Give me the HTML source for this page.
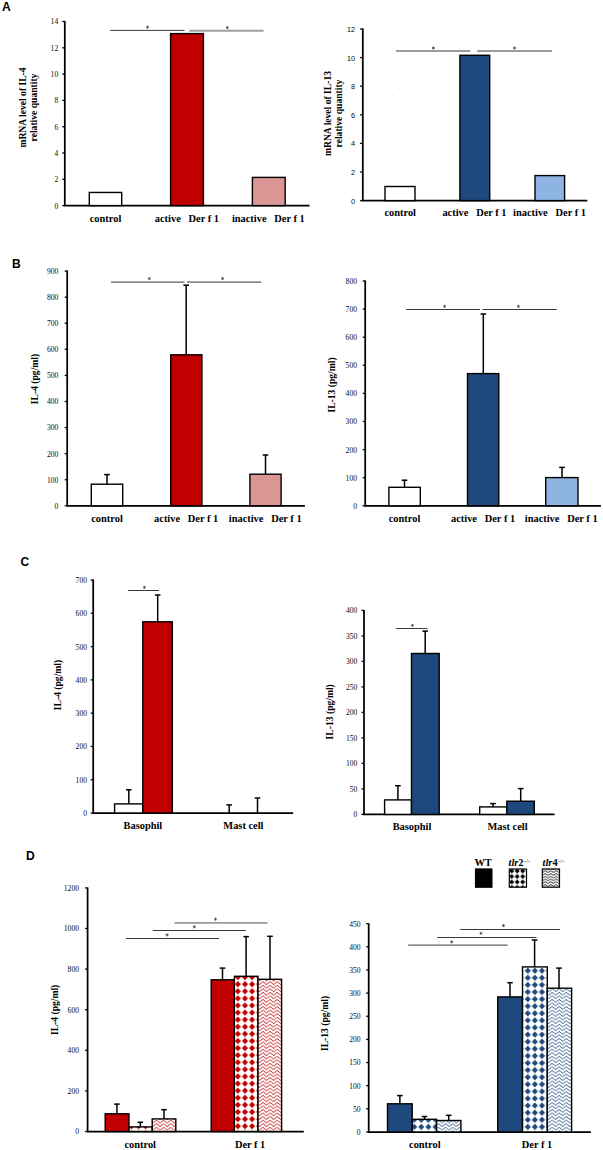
<!DOCTYPE html>
<html><head><meta charset="utf-8"><title>Figure</title>
<style>html,body{margin:0;padding:0;background:#fff}svg{display:block}text{white-space:pre}</style>
</head><body>
<svg width="603" height="1150" viewBox="0 0 603 1150">
<rect x="0" y="0" width="603" height="1150" fill="#fff"/>
<defs>
<pattern id="dR" width="7.1" height="7.1" patternUnits="userSpaceOnUse" patternTransform="translate(0.05 0.85)">
<rect width="7.1" height="7.1" fill="#fff"/>
<path d="M3.55 0.5 L6.6 3.55 L3.55 6.6 L0.5 3.55 Z" fill="#C00000"/>
</pattern>
<pattern id="dB" width="7.1" height="7.1" patternUnits="userSpaceOnUse" patternTransform="translate(5.95 1.55)">
<rect width="7.1" height="7.1" fill="#fff"/>
<path d="M3.55 0.5 L6.6 3.55 L3.55 6.6 L0.5 3.55 Z" fill="#1F497D"/>
</pattern>
<pattern id="dK" width="5.5" height="5.5" patternUnits="userSpaceOnUse" patternTransform="translate(2.95 4.75)">
<rect width="5.5" height="5.5" fill="#fff"/>
<path d="M2.75 0.27 L5.22 2.75 L2.75 5.22 L0.27 2.75 Z" fill="#000"/>
</pattern>
<pattern id="zR" width="7.1" height="3.55" patternUnits="userSpaceOnUse" patternTransform="translate(3.81 1.58)">
<rect width="7.1" height="3.55" fill="#fff"/>
<path d="M-3.55 0.32 L0 3.22 L3.55 0.32 L7.1 3.22 L10.65 0.32" fill="none" stroke="#C00000" stroke-width="0.85" stroke-linejoin="miter"/>
</pattern>
<pattern id="zB" width="7.1" height="3.55" patternUnits="userSpaceOnUse" patternTransform="translate(1.85 1.52)">
<rect width="7.1" height="3.55" fill="#fff"/>
<path d="M-3.55 0.32 L0 3.22 L3.55 0.32 L7.1 3.22 L10.65 0.32" fill="none" stroke="#1F497D" stroke-width="0.85" stroke-linejoin="miter"/>
</pattern>
<pattern id="zK" width="5.5" height="2.75" patternUnits="userSpaceOnUse" patternTransform="translate(3.55 1.28)">
<rect width="5.5" height="2.75" fill="#fff"/>
<path d="M-2.75 0.43 L0 2.33 L2.75 0.43 L5.5 2.33 L8.25 0.43" fill="none" stroke="#000" stroke-width="0.8" stroke-linejoin="miter"/>
</pattern>
</defs>
<text x="2.1" y="11" font-family='"Liberation Sans", sans-serif' font-size="12.1" font-weight="bold" text-anchor="start" fill="#000">A</text>
<text x="11.9" y="267.6" font-family='"Liberation Sans", sans-serif' font-size="12.1" font-weight="bold" text-anchor="start" fill="#000">B</text>
<text x="20.5" y="565.5" font-family='"Liberation Sans", sans-serif' font-size="12.1" font-weight="bold" text-anchor="start" fill="#000">C</text>
<text x="25.9" y="859.6" font-family='"Liberation Sans", sans-serif' font-size="12.1" font-weight="bold" text-anchor="start" fill="#000">D</text>
<line x1="62.3" y1="205.6" x2="64.8" y2="205.6" stroke="#000" stroke-width="1.3"/>
<text x="58.2" y="208.5" font-family='"Liberation Serif", serif' font-size="7.6" font-weight="normal" text-anchor="end" fill="#0a0a0a">0</text>
<line x1="62.3" y1="179.3" x2="64.8" y2="179.3" stroke="#000" stroke-width="1.3"/>
<text x="58.2" y="182.2" font-family='"Liberation Serif", serif' font-size="7.6" font-weight="normal" text-anchor="end" fill="#0a0a0a">2</text>
<line x1="62.3" y1="153" x2="64.8" y2="153" stroke="#000" stroke-width="1.3"/>
<text x="58.2" y="155.9" font-family='"Liberation Serif", serif' font-size="7.6" font-weight="normal" text-anchor="end" fill="#0a0a0a">4</text>
<line x1="62.3" y1="126.7" x2="64.8" y2="126.7" stroke="#000" stroke-width="1.3"/>
<text x="58.2" y="129.6" font-family='"Liberation Serif", serif' font-size="7.6" font-weight="normal" text-anchor="end" fill="#0a0a0a">6</text>
<line x1="62.3" y1="100.4" x2="64.8" y2="100.4" stroke="#000" stroke-width="1.3"/>
<text x="58.2" y="103.3" font-family='"Liberation Serif", serif' font-size="7.6" font-weight="normal" text-anchor="end" fill="#0a0a0a">8</text>
<line x1="62.3" y1="74.1" x2="64.8" y2="74.1" stroke="#000" stroke-width="1.3"/>
<text x="58.2" y="77" font-family='"Liberation Serif", serif' font-size="7.6" font-weight="normal" text-anchor="end" fill="#0a0a0a">10</text>
<line x1="62.3" y1="47.8" x2="64.8" y2="47.8" stroke="#000" stroke-width="1.3"/>
<text x="58.2" y="50.7" font-family='"Liberation Serif", serif' font-size="7.6" font-weight="normal" text-anchor="end" fill="#0a0a0a">12</text>
<line x1="62.3" y1="21.5" x2="64.8" y2="21.5" stroke="#000" stroke-width="1.3"/>
<text x="58.2" y="24.4" font-family='"Liberation Serif", serif' font-size="7.6" font-weight="normal" text-anchor="end" fill="#0a0a0a">14</text>
<polyline points="64.8,21 64.8,205.6 309.5,205.6" fill="none" stroke="#000" stroke-width="1.75" stroke-linejoin="miter"/>
<rect x="89.3" y="192.45" width="32.4" height="13.15" fill="#fff" stroke="#000" stroke-width="1.4"/>
<rect x="170.6" y="33.6" width="32.8" height="172" fill="#C00000" stroke="#000" stroke-width="1.4"/>
<rect x="252.4" y="177.4" width="32.8" height="28.2" fill="#DA9694" stroke="#000" stroke-width="1.4"/>
<line x1="110.2" y1="30.4" x2="184.6" y2="30.4" stroke="#383838" stroke-width="1"/>
<path d="M147.5 25.95 L147.5 28.45 M148.58 26.57 L146.42 27.82 M148.58 27.82 L146.42 26.57" fill="none" stroke="#222" stroke-width="0.6" stroke-linecap="round"/>
<line x1="189.2" y1="30.8" x2="263.6" y2="30.8" stroke="#a0a0a0" stroke-width="1.9"/>
<path d="M227.3 26.35 L227.3 28.85 M228.38 26.98 L226.22 28.23 M228.38 28.23 L226.22 26.98" fill="none" stroke="#222" stroke-width="0.6" stroke-linecap="round"/>
<text x="105.5" y="221.8" font-family='"Liberation Serif", serif' font-size="10.4" font-weight="bold" text-anchor="middle" fill="#000">control</text>
<text x="154.8" y="221.8" font-family='"Liberation Serif", serif' font-size="10.4" font-weight="bold" text-anchor="start" fill="#000">active   Der f 1</text>
<text x="231.9" y="221.8" font-family='"Liberation Serif", serif' font-size="10.4" font-weight="bold" text-anchor="start" fill="#000">inactive   Der f 1</text>
<text transform="translate(26.1 107.5) rotate(-90)" font-family='"Liberation Serif", serif' font-size="9.6" font-weight="bold" text-anchor="middle" fill="#000">mRNA level of IL-4</text>
<text transform="translate(36.9 107.5) rotate(-90)" font-family='"Liberation Serif", serif' font-size="9.6" font-weight="bold" text-anchor="middle" fill="#000">relative quantity</text>
<line x1="360.1" y1="200.6" x2="362.8" y2="200.6" stroke="#000" stroke-width="1.3"/>
<text x="355" y="203.6" font-family='"Liberation Sans", sans-serif' font-size="7.25" font-weight="normal" text-anchor="end" fill="#0a0a0a">0</text>
<line x1="360.1" y1="172" x2="362.8" y2="172" stroke="#000" stroke-width="1.3"/>
<text x="355" y="175" font-family='"Liberation Sans", sans-serif' font-size="7.25" font-weight="normal" text-anchor="end" fill="#0a0a0a">2</text>
<line x1="360.1" y1="143.4" x2="362.8" y2="143.4" stroke="#000" stroke-width="1.3"/>
<text x="355" y="146.4" font-family='"Liberation Sans", sans-serif' font-size="7.25" font-weight="normal" text-anchor="end" fill="#0a0a0a">4</text>
<line x1="360.1" y1="114.8" x2="362.8" y2="114.8" stroke="#000" stroke-width="1.3"/>
<text x="355" y="117.8" font-family='"Liberation Sans", sans-serif' font-size="7.25" font-weight="normal" text-anchor="end" fill="#0a0a0a">6</text>
<line x1="360.1" y1="86.2" x2="362.8" y2="86.2" stroke="#000" stroke-width="1.3"/>
<text x="355" y="89.2" font-family='"Liberation Sans", sans-serif' font-size="7.25" font-weight="normal" text-anchor="end" fill="#0a0a0a">8</text>
<line x1="360.1" y1="57.6" x2="362.8" y2="57.6" stroke="#000" stroke-width="1.3"/>
<text x="355" y="60.6" font-family='"Liberation Sans", sans-serif' font-size="7.25" font-weight="normal" text-anchor="end" fill="#0a0a0a">10</text>
<line x1="360.1" y1="29" x2="362.8" y2="29" stroke="#000" stroke-width="1.3"/>
<text x="355" y="32" font-family='"Liberation Sans", sans-serif' font-size="7.25" font-weight="normal" text-anchor="end" fill="#0a0a0a">12</text>
<polyline points="362.8,28.5 362.8,200.6 587.3,200.6" fill="none" stroke="#000" stroke-width="1.75" stroke-linejoin="miter"/>
<rect x="385" y="186.5" width="30" height="14.1" fill="#fff" stroke="#000" stroke-width="1.4"/>
<rect x="459.9" y="55.3" width="29.8" height="145.3" fill="#1F497D" stroke="#000" stroke-width="1.4"/>
<rect x="535" y="175.6" width="29.6" height="25" fill="#8DB4E2" stroke="#000" stroke-width="1.4"/>
<line x1="396" y1="51" x2="470.3" y2="51" stroke="#383838" stroke-width="1"/>
<path d="M433.4 46.75 L433.4 49.25 M434.48 47.38 L432.32 48.62 M434.48 48.62 L432.32 47.38" fill="none" stroke="#222" stroke-width="0.6" stroke-linecap="round"/>
<line x1="477.2" y1="51" x2="552" y2="51" stroke="#383838" stroke-width="1"/>
<path d="M514.5 46.75 L514.5 49.25 M515.58 47.38 L513.42 48.62 M515.58 48.62 L513.42 47.38" fill="none" stroke="#222" stroke-width="0.6" stroke-linecap="round"/>
<text x="400.2" y="216.2" font-family='"Liberation Serif", serif' font-size="10.4" font-weight="bold" text-anchor="middle" fill="#000">control</text>
<text x="442.4" y="216.2" font-family='"Liberation Serif", serif' font-size="10.4" font-weight="bold" text-anchor="start" fill="#000">active   Der f 1</text>
<text x="513.1" y="216.2" font-family='"Liberation Serif", serif' font-size="10.4" font-weight="bold" text-anchor="start" fill="#000">inactive   Der f 1</text>
<text transform="translate(331.3 113.5) rotate(-90)" font-family='"Liberation Serif", serif' font-size="9.6" font-weight="bold" text-anchor="middle" fill="#000">mRNA level of IL-13</text>
<text transform="translate(342 113.5) rotate(-90)" font-family='"Liberation Serif", serif' font-size="9.6" font-weight="bold" text-anchor="middle" fill="#000">relative quantity</text>
<rect x="391.3" y="94.1" width="1.6" height="1.6" fill="#e4e4e4"/>
<line x1="64.7" y1="505.8" x2="67.2" y2="505.8" stroke="#000" stroke-width="1.3"/>
<text x="58.4" y="508.7" font-family='"Liberation Serif", serif' font-size="7.6" font-weight="normal" text-anchor="end" fill="#0a0a0a">0</text>
<line x1="64.7" y1="479.72" x2="67.2" y2="479.72" stroke="#000" stroke-width="1.3"/>
<text x="58.4" y="482.62" font-family='"Liberation Serif", serif' font-size="7.6" font-weight="normal" text-anchor="end" fill="#0a0a0a">100</text>
<line x1="64.7" y1="453.64" x2="67.2" y2="453.64" stroke="#000" stroke-width="1.3"/>
<text x="58.4" y="456.54" font-family='"Liberation Serif", serif' font-size="7.6" font-weight="normal" text-anchor="end" fill="#0a0a0a">200</text>
<line x1="64.7" y1="427.56" x2="67.2" y2="427.56" stroke="#000" stroke-width="1.3"/>
<text x="58.4" y="430.46" font-family='"Liberation Serif", serif' font-size="7.6" font-weight="normal" text-anchor="end" fill="#0a0a0a">300</text>
<line x1="64.7" y1="401.48" x2="67.2" y2="401.48" stroke="#000" stroke-width="1.3"/>
<text x="58.4" y="404.38" font-family='"Liberation Serif", serif' font-size="7.6" font-weight="normal" text-anchor="end" fill="#0a0a0a">400</text>
<line x1="64.7" y1="375.4" x2="67.2" y2="375.4" stroke="#000" stroke-width="1.3"/>
<text x="58.4" y="378.3" font-family='"Liberation Serif", serif' font-size="7.6" font-weight="normal" text-anchor="end" fill="#0a0a0a">500</text>
<line x1="64.7" y1="349.32" x2="67.2" y2="349.32" stroke="#000" stroke-width="1.3"/>
<text x="58.4" y="352.22" font-family='"Liberation Serif", serif' font-size="7.6" font-weight="normal" text-anchor="end" fill="#0a0a0a">600</text>
<line x1="64.7" y1="323.24" x2="67.2" y2="323.24" stroke="#000" stroke-width="1.3"/>
<text x="58.4" y="326.14" font-family='"Liberation Serif", serif' font-size="7.6" font-weight="normal" text-anchor="end" fill="#0a0a0a">700</text>
<line x1="64.7" y1="297.16" x2="67.2" y2="297.16" stroke="#000" stroke-width="1.3"/>
<text x="58.4" y="300.06" font-family='"Liberation Serif", serif' font-size="7.6" font-weight="normal" text-anchor="end" fill="#0a0a0a">800</text>
<line x1="64.7" y1="271.08" x2="67.2" y2="271.08" stroke="#000" stroke-width="1.3"/>
<text x="58.4" y="273.98" font-family='"Liberation Serif", serif' font-size="7.6" font-weight="normal" text-anchor="end" fill="#0a0a0a">900</text>
<polyline points="67.2,270.58 67.2,505.8 304.9,505.8" fill="none" stroke="#000" stroke-width="1.75" stroke-linejoin="miter"/>
<rect x="91.3" y="484.2" width="31.4" height="21.6" fill="#fff" stroke="#000" stroke-width="1.4"/>
<line x1="107" y1="474.6" x2="107" y2="484.2" stroke="#000" stroke-width="1.5"/>
<line x1="104.2" y1="474.6" x2="109.8" y2="474.6" stroke="#000" stroke-width="1.5"/>
<rect x="170.7" y="354.8" width="31.2" height="151" fill="#C00000" stroke="#000" stroke-width="1.4"/>
<line x1="186.2" y1="285.2" x2="186.2" y2="354.8" stroke="#000" stroke-width="1.5"/>
<line x1="183.4" y1="285.2" x2="189" y2="285.2" stroke="#000" stroke-width="1.5"/>
<rect x="249.9" y="474.2" width="31.2" height="31.6" fill="#DA9694" stroke="#000" stroke-width="1.4"/>
<line x1="265.5" y1="455" x2="265.5" y2="474.2" stroke="#000" stroke-width="1.5"/>
<line x1="262.7" y1="455" x2="268.3" y2="455" stroke="#000" stroke-width="1.5"/>
<line x1="111" y1="282.1" x2="184.5" y2="282.1" stroke="#383838" stroke-width="1"/>
<path d="M149.3 277.35 L149.3 279.85 M150.38 277.98 L148.22 279.23 M150.38 279.23 L148.22 277.98" fill="none" stroke="#222" stroke-width="0.6" stroke-linecap="round"/>
<line x1="187.1" y1="282.1" x2="261.2" y2="282.1" stroke="#383838" stroke-width="1"/>
<path d="M222.6 277.35 L222.6 279.85 M223.68 277.98 L221.52 279.23 M223.68 279.23 L221.52 277.98" fill="none" stroke="#222" stroke-width="0.6" stroke-linecap="round"/>
<text x="107" y="521.6" font-family='"Liberation Serif", serif' font-size="10.4" font-weight="bold" text-anchor="middle" fill="#000">control</text>
<text x="154.1" y="521.6" font-family='"Liberation Serif", serif' font-size="10.4" font-weight="bold" text-anchor="start" fill="#000">active   Der f 1</text>
<text x="228.8" y="521.6" font-family='"Liberation Serif", serif' font-size="10.4" font-weight="bold" text-anchor="start" fill="#000">inactive   Der f 1</text>
<text transform="translate(38.1 379) rotate(-90)" font-family='"Liberation Serif", serif' font-size="9.6" font-weight="bold" text-anchor="middle" fill="#000">IL-4 (pg/ml)</text>
<line x1="362.7" y1="505.8" x2="365.2" y2="505.8" stroke="#000" stroke-width="1.3"/>
<text x="357" y="508.7" font-family='"Liberation Serif", serif' font-size="7.6" font-weight="normal" text-anchor="end" fill="#0a0a0a">0</text>
<line x1="362.7" y1="477.7" x2="365.2" y2="477.7" stroke="#000" stroke-width="1.3"/>
<text x="357" y="480.6" font-family='"Liberation Serif", serif' font-size="7.6" font-weight="normal" text-anchor="end" fill="#0a0a0a">100</text>
<line x1="362.7" y1="449.6" x2="365.2" y2="449.6" stroke="#000" stroke-width="1.3"/>
<text x="357" y="452.5" font-family='"Liberation Serif", serif' font-size="7.6" font-weight="normal" text-anchor="end" fill="#0a0a0a">200</text>
<line x1="362.7" y1="421.5" x2="365.2" y2="421.5" stroke="#000" stroke-width="1.3"/>
<text x="357" y="424.4" font-family='"Liberation Serif", serif' font-size="7.6" font-weight="normal" text-anchor="end" fill="#0a0a0a">300</text>
<line x1="362.7" y1="393.4" x2="365.2" y2="393.4" stroke="#000" stroke-width="1.3"/>
<text x="357" y="396.3" font-family='"Liberation Serif", serif' font-size="7.6" font-weight="normal" text-anchor="end" fill="#0a0a0a">400</text>
<line x1="362.7" y1="365.3" x2="365.2" y2="365.3" stroke="#000" stroke-width="1.3"/>
<text x="357" y="368.2" font-family='"Liberation Serif", serif' font-size="7.6" font-weight="normal" text-anchor="end" fill="#0a0a0a">500</text>
<line x1="362.7" y1="337.2" x2="365.2" y2="337.2" stroke="#000" stroke-width="1.3"/>
<text x="357" y="340.1" font-family='"Liberation Serif", serif' font-size="7.6" font-weight="normal" text-anchor="end" fill="#0a0a0a">600</text>
<line x1="362.7" y1="309.1" x2="365.2" y2="309.1" stroke="#000" stroke-width="1.3"/>
<text x="357" y="312" font-family='"Liberation Serif", serif' font-size="7.6" font-weight="normal" text-anchor="end" fill="#0a0a0a">700</text>
<line x1="362.7" y1="281" x2="365.2" y2="281" stroke="#000" stroke-width="1.3"/>
<text x="357" y="283.9" font-family='"Liberation Serif", serif' font-size="7.6" font-weight="normal" text-anchor="end" fill="#0a0a0a">800</text>
<polyline points="365.2,280.5 365.2,505.8 600.9,505.8" fill="none" stroke="#000" stroke-width="1.75" stroke-linejoin="miter"/>
<rect x="388.9" y="487.3" width="31.4" height="18.5" fill="#fff" stroke="#000" stroke-width="1.4"/>
<line x1="404.5" y1="480.2" x2="404.5" y2="487.3" stroke="#000" stroke-width="1.5"/>
<line x1="401.7" y1="480.2" x2="407.3" y2="480.2" stroke="#000" stroke-width="1.5"/>
<rect x="467.5" y="373.6" width="31.3" height="132.2" fill="#1F497D" stroke="#000" stroke-width="1.4"/>
<line x1="483.3" y1="314" x2="483.3" y2="373.6" stroke="#000" stroke-width="1.5"/>
<line x1="480.5" y1="314" x2="486.1" y2="314" stroke="#000" stroke-width="1.5"/>
<rect x="545.7" y="477.6" width="32.3" height="28.2" fill="#8DB4E2" stroke="#000" stroke-width="1.4"/>
<line x1="562" y1="467.4" x2="562" y2="477.6" stroke="#000" stroke-width="1.5"/>
<line x1="559.2" y1="467.4" x2="564.8" y2="467.4" stroke="#000" stroke-width="1.5"/>
<line x1="406.3" y1="309.5" x2="480" y2="309.5" stroke="#383838" stroke-width="1"/>
<path d="M444.6 305.15 L444.6 307.65 M445.68 305.77 L443.52 307.02 M445.68 307.02 L443.52 305.77" fill="none" stroke="#222" stroke-width="0.6" stroke-linecap="round"/>
<line x1="482.4" y1="309.5" x2="556.8" y2="309.5" stroke="#383838" stroke-width="1"/>
<path d="M518.4 305.15 L518.4 307.65 M519.48 305.77 L517.32 307.02 M519.48 307.02 L517.32 305.77" fill="none" stroke="#222" stroke-width="0.6" stroke-linecap="round"/>
<text x="404.5" y="521.8" font-family='"Liberation Serif", serif' font-size="10.4" font-weight="bold" text-anchor="middle" fill="#000">control</text>
<text x="451" y="521.8" font-family='"Liberation Serif", serif' font-size="10.4" font-weight="bold" text-anchor="start" fill="#000">active   Der f 1</text>
<text x="524.8" y="521.8" font-family='"Liberation Serif", serif' font-size="10.4" font-weight="bold" text-anchor="start" fill="#000">inactive   Der f 1</text>
<text transform="translate(334.5 385) rotate(-90)" font-family='"Liberation Serif", serif' font-size="9.6" font-weight="bold" text-anchor="middle" fill="#000">IL-13 (pg/ml)</text>
<line x1="90.7" y1="813" x2="93.2" y2="813" stroke="#000" stroke-width="1.3"/>
<text x="87" y="815.9" font-family='"Liberation Serif", serif' font-size="7.6" font-weight="normal" text-anchor="end" fill="#0a0a0a">0</text>
<line x1="90.7" y1="779.72" x2="93.2" y2="779.72" stroke="#000" stroke-width="1.3"/>
<text x="87" y="782.62" font-family='"Liberation Serif", serif' font-size="7.6" font-weight="normal" text-anchor="end" fill="#0a0a0a">100</text>
<line x1="90.7" y1="746.44" x2="93.2" y2="746.44" stroke="#000" stroke-width="1.3"/>
<text x="87" y="749.34" font-family='"Liberation Serif", serif' font-size="7.6" font-weight="normal" text-anchor="end" fill="#0a0a0a">200</text>
<line x1="90.7" y1="713.16" x2="93.2" y2="713.16" stroke="#000" stroke-width="1.3"/>
<text x="87" y="716.06" font-family='"Liberation Serif", serif' font-size="7.6" font-weight="normal" text-anchor="end" fill="#0a0a0a">300</text>
<line x1="90.7" y1="679.88" x2="93.2" y2="679.88" stroke="#000" stroke-width="1.3"/>
<text x="87" y="682.78" font-family='"Liberation Serif", serif' font-size="7.6" font-weight="normal" text-anchor="end" fill="#0a0a0a">400</text>
<line x1="90.7" y1="646.6" x2="93.2" y2="646.6" stroke="#000" stroke-width="1.3"/>
<text x="87" y="649.5" font-family='"Liberation Serif", serif' font-size="7.6" font-weight="normal" text-anchor="end" fill="#0a0a0a">500</text>
<line x1="90.7" y1="613.32" x2="93.2" y2="613.32" stroke="#000" stroke-width="1.3"/>
<text x="87" y="616.22" font-family='"Liberation Serif", serif' font-size="7.6" font-weight="normal" text-anchor="end" fill="#0a0a0a">600</text>
<line x1="90.7" y1="580.04" x2="93.2" y2="580.04" stroke="#000" stroke-width="1.3"/>
<text x="87" y="582.94" font-family='"Liberation Serif", serif' font-size="7.6" font-weight="normal" text-anchor="end" fill="#0a0a0a">700</text>
<polyline points="93.2,579.54 93.2,813 293.2,813" fill="none" stroke="#000" stroke-width="1.75" stroke-linejoin="miter"/>
<rect x="114.6" y="803.9" width="28.2" height="9.1" fill="#fff" stroke="#000" stroke-width="1.4"/>
<line x1="128.8" y1="789.8" x2="128.8" y2="803.9" stroke="#000" stroke-width="1.5"/>
<line x1="126" y1="789.8" x2="131.6" y2="789.8" stroke="#000" stroke-width="1.5"/>
<rect x="142.8" y="621.8" width="29.5" height="191.2" fill="#C00000" stroke="#000" stroke-width="1.4"/>
<line x1="157.7" y1="595" x2="157.7" y2="621.8" stroke="#000" stroke-width="1.5"/>
<line x1="154.9" y1="595" x2="160.5" y2="595" stroke="#000" stroke-width="1.5"/>
<line x1="229.2" y1="804.9" x2="229.2" y2="813" stroke="#000" stroke-width="1.5"/>
<line x1="226.4" y1="804.9" x2="232" y2="804.9" stroke="#000" stroke-width="1.5"/>
<line x1="257.5" y1="798" x2="257.5" y2="813" stroke="#000" stroke-width="1.5"/>
<line x1="254.7" y1="798" x2="260.3" y2="798" stroke="#000" stroke-width="1.5"/>
<line x1="127.9" y1="590.5" x2="159" y2="590.5" stroke="#383838" stroke-width="1"/>
<path d="M144.4 586.15 L144.4 588.65 M145.48 586.77 L143.32 588.02 M145.48 588.02 L143.32 586.77" fill="none" stroke="#222" stroke-width="0.6" stroke-linecap="round"/>
<text x="142.9" y="829.2" font-family='"Liberation Serif", serif' font-size="10.4" font-weight="bold" text-anchor="middle" fill="#000">Basophil</text>
<text x="243.4" y="829.2" font-family='"Liberation Serif", serif' font-size="10.4" font-weight="bold" text-anchor="middle" fill="#000">Mast cell</text>
<text transform="translate(61.2 685) rotate(-90)" font-family='"Liberation Serif", serif' font-size="9.6" font-weight="bold" text-anchor="middle" fill="#000">IL-4 (pg/ml)</text>
<line x1="361.5" y1="814.4" x2="364" y2="814.4" stroke="#000" stroke-width="1.3"/>
<text x="357.3" y="817.3" font-family='"Liberation Serif", serif' font-size="7.6" font-weight="normal" text-anchor="end" fill="#0a0a0a">0</text>
<line x1="361.5" y1="788.9" x2="364" y2="788.9" stroke="#000" stroke-width="1.3"/>
<text x="357.3" y="791.8" font-family='"Liberation Serif", serif' font-size="7.6" font-weight="normal" text-anchor="end" fill="#0a0a0a">50</text>
<line x1="361.5" y1="763.4" x2="364" y2="763.4" stroke="#000" stroke-width="1.3"/>
<text x="357.3" y="766.3" font-family='"Liberation Serif", serif' font-size="7.6" font-weight="normal" text-anchor="end" fill="#0a0a0a">100</text>
<line x1="361.5" y1="737.9" x2="364" y2="737.9" stroke="#000" stroke-width="1.3"/>
<text x="357.3" y="740.8" font-family='"Liberation Serif", serif' font-size="7.6" font-weight="normal" text-anchor="end" fill="#0a0a0a">150</text>
<line x1="361.5" y1="712.4" x2="364" y2="712.4" stroke="#000" stroke-width="1.3"/>
<text x="357.3" y="715.3" font-family='"Liberation Serif", serif' font-size="7.6" font-weight="normal" text-anchor="end" fill="#0a0a0a">200</text>
<line x1="361.5" y1="686.9" x2="364" y2="686.9" stroke="#000" stroke-width="1.3"/>
<text x="357.3" y="689.8" font-family='"Liberation Serif", serif' font-size="7.6" font-weight="normal" text-anchor="end" fill="#0a0a0a">250</text>
<line x1="361.5" y1="661.4" x2="364" y2="661.4" stroke="#000" stroke-width="1.3"/>
<text x="357.3" y="664.3" font-family='"Liberation Serif", serif' font-size="7.6" font-weight="normal" text-anchor="end" fill="#0a0a0a">300</text>
<line x1="361.5" y1="635.9" x2="364" y2="635.9" stroke="#000" stroke-width="1.3"/>
<text x="357.3" y="638.8" font-family='"Liberation Serif", serif' font-size="7.6" font-weight="normal" text-anchor="end" fill="#0a0a0a">350</text>
<line x1="361.5" y1="610.4" x2="364" y2="610.4" stroke="#000" stroke-width="1.3"/>
<text x="357.3" y="613.3" font-family='"Liberation Serif", serif' font-size="7.6" font-weight="normal" text-anchor="end" fill="#0a0a0a">400</text>
<polyline points="364,609.9 364,814.4 554.6,814.4" fill="none" stroke="#000" stroke-width="1.75" stroke-linejoin="miter"/>
<rect x="384.6" y="799.9" width="26.9" height="14.5" fill="#fff" stroke="#000" stroke-width="1.4"/>
<line x1="397.9" y1="785.7" x2="397.9" y2="799.9" stroke="#000" stroke-width="1.5"/>
<line x1="395.1" y1="785.7" x2="400.7" y2="785.7" stroke="#000" stroke-width="1.5"/>
<rect x="411.5" y="653.5" width="27.7" height="160.9" fill="#1F497D" stroke="#000" stroke-width="1.4"/>
<line x1="425.2" y1="631.1" x2="425.2" y2="653.5" stroke="#000" stroke-width="1.5"/>
<line x1="422.4" y1="631.1" x2="428" y2="631.1" stroke="#000" stroke-width="1.5"/>
<rect x="479.7" y="806.9" width="27.1" height="7.5" fill="#fff" stroke="#000" stroke-width="1.4"/>
<line x1="493" y1="803.6" x2="493" y2="806.9" stroke="#000" stroke-width="1.5"/>
<line x1="490.2" y1="803.6" x2="495.8" y2="803.6" stroke="#000" stroke-width="1.5"/>
<rect x="506.8" y="801.2" width="27.5" height="13.2" fill="#1F497D" stroke="#000" stroke-width="1.4"/>
<line x1="520.7" y1="788.6" x2="520.7" y2="801.2" stroke="#000" stroke-width="1.5"/>
<line x1="517.9" y1="788.6" x2="523.5" y2="788.6" stroke="#000" stroke-width="1.5"/>
<line x1="396" y1="628.5" x2="427.3" y2="628.5" stroke="#383838" stroke-width="1"/>
<path d="M412.4 624.15 L412.4 626.65 M413.48 624.77 L411.32 626.02 M413.48 626.02 L411.32 624.77" fill="none" stroke="#222" stroke-width="0.6" stroke-linecap="round"/>
<text x="412" y="830.2" font-family='"Liberation Serif", serif' font-size="10.4" font-weight="bold" text-anchor="middle" fill="#000">Basophil</text>
<text x="507.5" y="830.2" font-family='"Liberation Serif", serif' font-size="10.4" font-weight="bold" text-anchor="middle" fill="#000">Mast cell</text>
<text transform="translate(332.5 711.8) rotate(-90)" font-family='"Liberation Serif", serif' font-size="9.6" font-weight="bold" text-anchor="middle" fill="#000">IL-13 (pg/ml)</text>
<line x1="85.1" y1="1131.5" x2="87.6" y2="1131.5" stroke="#000" stroke-width="1.3"/>
<text x="79" y="1134.4" font-family='"Liberation Serif", serif' font-size="7.6" font-weight="normal" text-anchor="end" fill="#0a0a0a">0</text>
<line x1="85.1" y1="1090.9" x2="87.6" y2="1090.9" stroke="#000" stroke-width="1.3"/>
<text x="79" y="1093.8" font-family='"Liberation Serif", serif' font-size="7.6" font-weight="normal" text-anchor="end" fill="#0a0a0a">200</text>
<line x1="85.1" y1="1050.3" x2="87.6" y2="1050.3" stroke="#000" stroke-width="1.3"/>
<text x="79" y="1053.2" font-family='"Liberation Serif", serif' font-size="7.6" font-weight="normal" text-anchor="end" fill="#0a0a0a">400</text>
<line x1="85.1" y1="1009.7" x2="87.6" y2="1009.7" stroke="#000" stroke-width="1.3"/>
<text x="79" y="1012.6" font-family='"Liberation Serif", serif' font-size="7.6" font-weight="normal" text-anchor="end" fill="#0a0a0a">600</text>
<line x1="85.1" y1="969.1" x2="87.6" y2="969.1" stroke="#000" stroke-width="1.3"/>
<text x="79" y="972" font-family='"Liberation Serif", serif' font-size="7.6" font-weight="normal" text-anchor="end" fill="#0a0a0a">800</text>
<line x1="85.1" y1="928.5" x2="87.6" y2="928.5" stroke="#000" stroke-width="1.3"/>
<text x="79" y="931.4" font-family='"Liberation Serif", serif' font-size="7.6" font-weight="normal" text-anchor="end" fill="#0a0a0a">1000</text>
<line x1="85.1" y1="887.9" x2="87.6" y2="887.9" stroke="#000" stroke-width="1.3"/>
<text x="79" y="890.8" font-family='"Liberation Serif", serif' font-size="7.6" font-weight="normal" text-anchor="end" fill="#0a0a0a">1200</text>
<polyline points="87.6,887.4 87.6,1131.5 303.8,1131.5" fill="none" stroke="#000" stroke-width="1.75" stroke-linejoin="miter"/>
<rect x="105.2" y="1113.8" width="23.8" height="17.7" fill="#C00000" stroke="#000" stroke-width="1.4"/>
<line x1="116.9" y1="1104.1" x2="116.9" y2="1113.8" stroke="#000" stroke-width="1.5"/>
<line x1="114.1" y1="1104.1" x2="119.7" y2="1104.1" stroke="#000" stroke-width="1.5"/>
<rect x="129" y="1126.9" width="23.2" height="4.6" fill="url(#dR)" stroke="#000" stroke-width="1.4"/>
<line x1="140.3" y1="1122.3" x2="140.3" y2="1126.9" stroke="#000" stroke-width="1.5"/>
<line x1="137.5" y1="1122.3" x2="143.1" y2="1122.3" stroke="#000" stroke-width="1.5"/>
<rect x="152.2" y="1118.9" width="23.6" height="12.6" fill="url(#zR)" stroke="#000" stroke-width="1.4"/>
<line x1="164" y1="1109.7" x2="164" y2="1118.9" stroke="#000" stroke-width="1.5"/>
<line x1="161.2" y1="1109.7" x2="166.8" y2="1109.7" stroke="#000" stroke-width="1.5"/>
<rect x="211.2" y="979.8" width="23.2" height="151.7" fill="#C00000" stroke="#000" stroke-width="1.4"/>
<line x1="222.5" y1="968.1" x2="222.5" y2="979.8" stroke="#000" stroke-width="1.5"/>
<line x1="219.7" y1="968.1" x2="225.3" y2="968.1" stroke="#000" stroke-width="1.5"/>
<rect x="234.4" y="976.3" width="23.6" height="155.2" fill="url(#dR)" stroke="#000" stroke-width="1.4"/>
<line x1="246.1" y1="936.6" x2="246.1" y2="976.3" stroke="#000" stroke-width="1.5"/>
<line x1="243.3" y1="936.6" x2="248.9" y2="936.6" stroke="#000" stroke-width="1.5"/>
<rect x="258" y="979.3" width="23.6" height="152.2" fill="url(#zR)" stroke="#000" stroke-width="1.4"/>
<line x1="270" y1="936.3" x2="270" y2="979.3" stroke="#000" stroke-width="1.5"/>
<line x1="267.2" y1="936.3" x2="272.8" y2="936.3" stroke="#000" stroke-width="1.5"/>
<line x1="125.8" y1="938.5" x2="219" y2="938.5" stroke="#383838" stroke-width="1"/>
<path d="M167.1 933.65 L167.1 936.15 M168.18 934.27 L166.02 935.52 M168.18 935.52 L166.02 934.27" fill="none" stroke="#222" stroke-width="0.6" stroke-linecap="round"/>
<line x1="152.8" y1="930.5" x2="245.8" y2="930.5" stroke="#383838" stroke-width="1"/>
<path d="M194.3 925.55 L194.3 928.05 M195.38 926.17 L193.22 927.42 M195.38 927.42 L193.22 926.17" fill="none" stroke="#222" stroke-width="0.6" stroke-linecap="round"/>
<line x1="174.5" y1="922.85" x2="267.5" y2="922.85" stroke="#999" stroke-width="1.8"/>
<path d="M215.5 917.95 L215.5 920.45 M216.58 918.58 L214.42 919.83 M216.58 919.83 L214.42 918.58" fill="none" stroke="#222" stroke-width="0.6" stroke-linecap="round"/>
<text x="140.2" y="1147.6" font-family='"Liberation Serif", serif' font-size="10.4" font-weight="bold" text-anchor="middle" fill="#000">control</text>
<text x="250.1" y="1147.6" font-family='"Liberation Serif", serif' font-size="10.4" font-weight="bold" text-anchor="middle" fill="#000">Der f 1</text>
<text transform="translate(58.2 1009.9) rotate(-90)" font-family='"Liberation Serif", serif' font-size="9.6" font-weight="bold" text-anchor="middle" fill="#000">IL-4 (pg/ml)</text>
<line x1="366.2" y1="1132" x2="368.7" y2="1132" stroke="#000" stroke-width="1.3"/>
<text x="360.6" y="1134.9" font-family='"Liberation Serif", serif' font-size="7.6" font-weight="normal" text-anchor="end" fill="#0a0a0a">0</text>
<line x1="366.2" y1="1108.85" x2="368.7" y2="1108.85" stroke="#000" stroke-width="1.3"/>
<text x="360.6" y="1111.75" font-family='"Liberation Serif", serif' font-size="7.6" font-weight="normal" text-anchor="end" fill="#0a0a0a">50</text>
<line x1="366.2" y1="1085.7" x2="368.7" y2="1085.7" stroke="#000" stroke-width="1.3"/>
<text x="360.6" y="1088.6" font-family='"Liberation Serif", serif' font-size="7.6" font-weight="normal" text-anchor="end" fill="#0a0a0a">100</text>
<line x1="366.2" y1="1062.55" x2="368.7" y2="1062.55" stroke="#000" stroke-width="1.3"/>
<text x="360.6" y="1065.45" font-family='"Liberation Serif", serif' font-size="7.6" font-weight="normal" text-anchor="end" fill="#0a0a0a">150</text>
<line x1="366.2" y1="1039.4" x2="368.7" y2="1039.4" stroke="#000" stroke-width="1.3"/>
<text x="360.6" y="1042.3" font-family='"Liberation Serif", serif' font-size="7.6" font-weight="normal" text-anchor="end" fill="#0a0a0a">200</text>
<line x1="366.2" y1="1016.25" x2="368.7" y2="1016.25" stroke="#000" stroke-width="1.3"/>
<text x="360.6" y="1019.15" font-family='"Liberation Serif", serif' font-size="7.6" font-weight="normal" text-anchor="end" fill="#0a0a0a">250</text>
<line x1="366.2" y1="993.1" x2="368.7" y2="993.1" stroke="#000" stroke-width="1.3"/>
<text x="360.6" y="996" font-family='"Liberation Serif", serif' font-size="7.6" font-weight="normal" text-anchor="end" fill="#0a0a0a">300</text>
<line x1="366.2" y1="969.95" x2="368.7" y2="969.95" stroke="#000" stroke-width="1.3"/>
<text x="360.6" y="972.85" font-family='"Liberation Serif", serif' font-size="7.6" font-weight="normal" text-anchor="end" fill="#0a0a0a">350</text>
<line x1="366.2" y1="946.8" x2="368.7" y2="946.8" stroke="#000" stroke-width="1.3"/>
<text x="360.6" y="949.7" font-family='"Liberation Serif", serif' font-size="7.6" font-weight="normal" text-anchor="end" fill="#0a0a0a">400</text>
<line x1="366.2" y1="923.65" x2="368.7" y2="923.65" stroke="#000" stroke-width="1.3"/>
<text x="360.6" y="926.55" font-family='"Liberation Serif", serif' font-size="7.6" font-weight="normal" text-anchor="end" fill="#0a0a0a">450</text>
<polyline points="368.7,923.15 368.7,1132 590.8,1132" fill="none" stroke="#000" stroke-width="1.75" stroke-linejoin="miter"/>
<rect x="387.5" y="1103.8" width="24.7" height="28.2" fill="#1F497D" stroke="#000" stroke-width="1.4"/>
<line x1="399.9" y1="1095.6" x2="399.9" y2="1103.8" stroke="#000" stroke-width="1.5"/>
<line x1="397.1" y1="1095.6" x2="402.7" y2="1095.6" stroke="#000" stroke-width="1.5"/>
<rect x="412.2" y="1119.3" width="24.4" height="12.7" fill="url(#dB)" stroke="#000" stroke-width="1.4"/>
<line x1="424.5" y1="1116.5" x2="424.5" y2="1119.3" stroke="#000" stroke-width="1.5"/>
<line x1="421.7" y1="1116.5" x2="427.3" y2="1116.5" stroke="#000" stroke-width="1.5"/>
<rect x="436.6" y="1120.5" width="24.3" height="11.5" fill="url(#zB)" stroke="#000" stroke-width="1.4"/>
<line x1="448.7" y1="1115.3" x2="448.7" y2="1120.5" stroke="#000" stroke-width="1.5"/>
<line x1="445.9" y1="1115.3" x2="451.5" y2="1115.3" stroke="#000" stroke-width="1.5"/>
<rect x="497.7" y="996.9" width="24.8" height="135.1" fill="#1F497D" stroke="#000" stroke-width="1.4"/>
<line x1="510" y1="982.7" x2="510" y2="996.9" stroke="#000" stroke-width="1.5"/>
<line x1="507.2" y1="982.7" x2="512.8" y2="982.7" stroke="#000" stroke-width="1.5"/>
<rect x="522.5" y="966.9" width="24.8" height="165.1" fill="url(#dB)" stroke="#000" stroke-width="1.4"/>
<line x1="534.6" y1="940" x2="534.6" y2="966.9" stroke="#000" stroke-width="1.5"/>
<line x1="531.8" y1="940" x2="537.4" y2="940" stroke="#000" stroke-width="1.5"/>
<rect x="547.3" y="988.2" width="24.3" height="143.8" fill="url(#zB)" stroke="#000" stroke-width="1.4"/>
<line x1="559" y1="968.1" x2="559" y2="988.2" stroke="#000" stroke-width="1.5"/>
<line x1="556.2" y1="968.1" x2="561.8" y2="968.1" stroke="#000" stroke-width="1.5"/>
<line x1="408.2" y1="945.1" x2="507.6" y2="945.1" stroke="#383838" stroke-width="1"/>
<path d="M451.7 940.65 L451.7 943.15 M452.78 941.27 L450.62 942.52 M452.78 942.52 L450.62 941.27" fill="none" stroke="#222" stroke-width="0.6" stroke-linecap="round"/>
<line x1="437.2" y1="937.5" x2="536.5" y2="937.5" stroke="#383838" stroke-width="1"/>
<path d="M481 932.05 L481 934.55 M482.08 932.67 L479.92 933.92 M482.08 933.92 L479.92 932.67" fill="none" stroke="#222" stroke-width="0.6" stroke-linecap="round"/>
<line x1="460.2" y1="929.5" x2="560" y2="929.5" stroke="#383838" stroke-width="1"/>
<path d="M503.5 924.35 L503.5 926.85 M504.58 924.98 L502.42 926.23 M504.58 926.23 L502.42 924.98" fill="none" stroke="#222" stroke-width="0.6" stroke-linecap="round"/>
<text x="424.8" y="1148.2" font-family='"Liberation Serif", serif' font-size="10.4" font-weight="bold" text-anchor="middle" fill="#000">control</text>
<text x="537" y="1148.2" font-family='"Liberation Serif", serif' font-size="10.4" font-weight="bold" text-anchor="middle" fill="#000">Der f 1</text>
<text transform="translate(327.9 1023.5) rotate(-90)" font-family='"Liberation Serif", serif' font-size="9.6" font-weight="bold" text-anchor="middle" fill="#000">IL-13 (pg/ml)</text>
<rect x="475.4" y="868.9" width="16.6" height="18.4" fill="#000" stroke="#000" stroke-width="1"/>
<rect x="509.3" y="869" width="17.2" height="18.2" fill="url(#dK)" stroke="#000" stroke-width="1.2"/>
<rect x="542.3" y="869" width="17.2" height="18.2" fill="url(#zK)" stroke="#000" stroke-width="1.2"/>
<text x="474.4" y="865.5" font-family='"Liberation Serif", serif' font-size="10.4" font-weight="bold" text-anchor="start" fill="#000">WT</text>
<text x="508.5" y="865.5" font-family='"Liberation Serif", serif' font-size="10.4" font-weight="bold" fill="#000"><tspan font-style="italic">tlr</tspan>2<tspan font-size="6.8" font-weight="normal" dy="-2.7" dx="0.4" fill="#222">-/-</tspan></text>
<text x="542.6" y="865.5" font-family='"Liberation Serif", serif' font-size="10.4" font-weight="bold" fill="#000"><tspan font-style="italic">tlr</tspan>4<tspan font-size="6.8" font-weight="normal" dy="-2.7" dx="0.4" fill="#222">-/-</tspan></text>
</svg>
</body></html>
